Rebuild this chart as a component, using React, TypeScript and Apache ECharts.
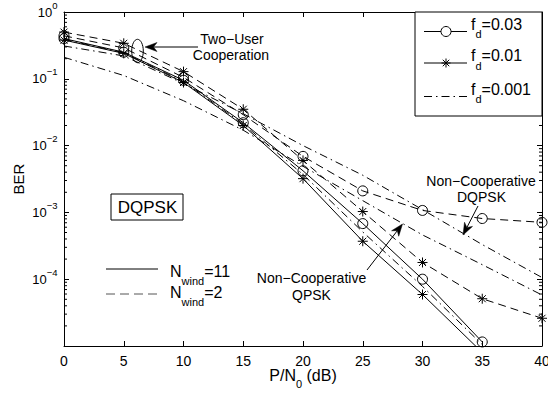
import React, { useEffect, useRef } from 'react';
import * as echarts from 'echarts';

const FF = '"Liberation Sans", Arial, Helvetica, sans-serif';

// SNR axis (dB)
const snrDb = [0, 5, 10, 15, 20, 25, 30, 35, 40];
// Two-user cooperation curves
const coopCircle = [0.40, 0.25, 0.095, 0.022, 4.2e-3, 6.8e-4, 1.0e-4, 1.15e-5];
const coopStar = [0.38, 0.24, 0.088, 0.020, 3.2e-3, 3.7e-4, 5.9e-5, 8e-6];
const coopDashDot = [0.39, 0.245, 0.091, 0.021, 3.7e-3, 5.1e-4, 7.8e-5, 1.05e-5];
// Non-cooperative curves
const ncCircle = [0.44, 0.29, 0.105, 0.029, 6.9e-3, 2.1e-3, 1.07e-3, 8.1e-4, 7.1e-4];
const ncStar = [0.5, 0.34, 0.128, 0.035, 6.0e-3, 1.03e-3, 1.78e-4, 5.1e-5, 2.6e-5];
const ncDashDot = [0.31, 0.22, 0.085, 0.03, 1.0e-2, 3.6e-3, 1.1e-3, 3.3e-4, 1.06e-4];
const ncQpsk = [0.21, 0.112, 0.047, 0.017, 4.9e-3, 1.5e-3, 4.6e-4, 1.65e-4, 5.8e-5];

// axis ticks
const xTickStep = 5;
const yMin = 1e-5;
const yMax = 1;
const minorMultipliers = [2, 3, 4, 5, 6, 7, 8, 9];
const minorDecades = [-5, -4, -3, -2, -1];

// legend texts
const fdLabels = ['0.03', '0.01', '0.001'];
const nwindLabels = ['11', '2'];

const STAR = 'path://M5,0L5,10M0,5L10,5M1.5,1.5L8.5,8.5M1.5,8.5L8.5,1.5';
const DASH = [8, 5];
const DASHDOT = [8, 4, 1.5, 4];

function pairs(vals: number[]) {
  return vals.map((v, i) => [snrDb[i], v]);
}

function lineSeries(name: string, vals: number[], dash: any, symbol?: string) {
  return {
    type: 'line',
    name,
    data: pairs(vals),
    xAxisIndex: 0,
    yAxisIndex: 0,
    symbol: symbol || 'none',
    showSymbol: !!symbol,
    symbolSize: 10,
    clip: true,
    silent: true,
    z: 3,
    lineStyle: { color: '#000', width: 1, type: dash },
    itemStyle: { color: 'rgba(0,0,0,0)', borderColor: '#000', borderWidth: 1 },
    emphasis: { disabled: true },
  };
}

function txt(x: number, y: number, text: string, size: number, align = 'center', rich?: any) {
  return {
    type: 'text',
    x,
    y,
    z: 110,
    silent: true,
    style: {
      text,
      fill: '#000',
      fontSize: size,
      fontFamily: FF,
      align,
      textAlign: align,
      verticalAlign: 'middle',
      textVerticalAlign: 'middle',
      rich,
    },
  };
}

function seg(x1: number, y1: number, x2: number, y2: number, dash?: any, color = '#000', w = 1) {
  return {
    type: 'line',
    z: 110,
    silent: true,
    shape: { x1, y1, x2, y2 },
    style: { stroke: color, lineWidth: w, lineDash: dash || null },
  };
}

function arrow(tail: number[], tip: number[]) {
  const len = 12, half = 4.5, notch = 3.5;
  const dx = tip[0] - tail[0], dy = tip[1] - tail[1];
  const L = Math.hypot(dx, dy);
  const ux = dx / L, uy = dy / L;
  const px = -uy, py = ux;
  const bx = tip[0] - ux * len, by = tip[1] - uy * len;
  const nx = tip[0] - ux * (len - notch), ny = tip[1] - uy * (len - notch);
  return [
    seg(tail[0], tail[1], nx, ny),
    {
      type: 'polygon',
      z: 110,
      silent: true,
      shape: { points: [tip, [bx + px * half, by + py * half], [nx, ny], [bx - px * half, by - py * half]] },
      style: { fill: '#000', stroke: '#000', lineWidth: 0.5 },
    },
  ];
}

function starLines(cx: number, cy: number, r: number) {
  const d = r * 0.72;
  return [
    seg(cx - r, cy, cx + r, cy),
    seg(cx, cy - r, cx, cy + r),
    seg(cx - d, cy - d, cx + d, cy + d),
    seg(cx - d, cy + d, cx + d, cy - d),
  ];
}

const subRich = (padTop: number) => ({
  m: { fontSize: 16, fontFamily: FF, fill: '#000', color: '#000' },
  s: { fontSize: 11, fontFamily: FF, fill: '#000', color: '#000', padding: [padTop, 0, 0, 0] },
});

export default function App() {
  const ref = useRef<HTMLDivElement>(null);

  useEffect(() => {
    if (!ref.current) return;
    const chart = echarts.init(ref.current, null, { renderer: 'svg' });

    const minorVals: number[][] = [];
    minorDecades.forEach((e) => minorMultipliers.forEach((k) => minorVals.push([0, k * Math.pow(10, e)])));

    const axisLine = { show: true, onZero: false, lineStyle: { color: '#000', width: 1 } };
    const axisTick = { show: true, inside: true, length: 5, lineStyle: { color: '#000', width: 1 } };

    const legendRows = [31.5, 63, 96.5];

    const graphics: any[] = [
      // Two-user cooperation annotation
      txt(232, 39, 'Two\u2212User', 14),
      txt(231, 55, 'Cooperation', 14),
      {
        type: 'ellipse',
        z: 110,
        silent: true,
        shape: { cx: 137.5, cy: 51, rx: 5.8, ry: 11.7 },
        style: { fill: 'none', stroke: '#000', lineWidth: 1 },
      },
      ...arrow([198, 47], [145, 47]),
      // DQPSK box
      {
        type: 'rect',
        z: 110,
        silent: true,
        shape: { x: 111, y: 194, width: 72, height: 26 },
        style: { fill: '#fff', stroke: '#000', lineWidth: 1 },
      },
      txt(147.5, 207.5, 'DQPSK', 17),
      // N_wind legend
      seg(106, 269, 158, 269),
      seg(106, 294, 158, 294, [9, 5], '#555'),
      txt(170, 271.3, `{m|N}{s|wind}{m|=${nwindLabels[0]}}`, 16, 'left', subRich(20)),
      txt(170, 292.3, `{m|N}{s|wind}{m|=${nwindLabels[1]}}`, 16, 'left', subRich(20)),
      // fd legend box
      {
        type: 'rect',
        z: 105,
        silent: true,
        shape: { x: 415, y: 12, width: 127, height: 104 },
        style: { fill: '#fff', stroke: '#000', lineWidth: 1 },
      },
      seg(424, legendRows[0], 467, legendRows[0]),
      {
        type: 'circle',
        z: 111,
        silent: true,
        shape: { cx: 446, cy: legendRows[0], r: 5 },
        style: { fill: '#fff', stroke: '#000', lineWidth: 1 },
      },
      seg(424, legendRows[1], 467, legendRows[1]),
      ...starLines(446, legendRows[1], 4.5),
      seg(424, legendRows[2], 467, legendRows[2], DASHDOT),
      ...fdLabels.map((l, i) => txt(471, legendRows[i] - 7.5, `{m|f}{s|d}{m|=${l}}`, 16, 'left', subRich(20))),
      // Non-cooperative DQPSK
      txt(481, 181, 'Non\u2212Cooperative', 14),
      txt(481.5, 197, 'DQPSK', 14),
      ...arrow([478, 206], [463, 235]),
      // Non-cooperative QPSK
      txt(311.5, 278, 'Non\u2212Cooperative', 14),
      txt(311.5, 294.5, 'QPSK', 14),
      ...arrow([367, 270], [402.5, 224]),
    ];

    const option: any = {
      animation: false,
      grid: { left: 64, top: 12, width: 478, height: 334, outerBoundsMode: 'none' },
      xAxis: [
        {
          type: 'value',
          min: 0,
          max: 40,
          interval: xTickStep,
          position: 'bottom',
          axisLine,
          axisTick,
          splitLine: { show: false },
          axisLabel: { color: '#000', fontSize: 14, fontFamily: FF, margin: 8 },
          name: '{a|P/N}{b|0}{a| (dB)}',
          nameLocation: 'middle',
          nameGap: 16,
          nameMoveOverlap: false,
          nameTextStyle: {
            color: '#000',
            fontSize: 16,
            fontFamily: FF,
            rich: {
              a: { fontSize: 16, fontFamily: FF, color: '#000' },
              b: { fontSize: 11, fontFamily: FF, color: '#000', padding: [16, 0, 0, 0] },
            },
          },
        },
        {
          type: 'value',
          min: 0,
          max: 40,
          interval: xTickStep,
          position: 'top',
          axisLine,
          axisTick,
          splitLine: { show: false },
          axisLabel: { show: false },
        },
      ],
      yAxis: [
        {
          type: 'log',
          logBase: 10,
          min: yMin,
          max: yMax,
          position: 'left',
          axisLine,
          axisTick,
          splitLine: { show: false },
          axisLabel: {
            margin: 6.5,
            color: '#000',
            fontFamily: FF,
            fontSize: 13,
            formatter: (v: number) => {
              const e = Math.round(Math.log10(v));
              if (e <= -5) return '';
              return `{b|10}{s|${e < 0 ? '\u2212' + -e : e}}`;
            },
            rich: {
              b: { fontSize: 13, fontFamily: FF, color: '#000' },
              s: { fontSize: 9.5, fontFamily: FF, color: '#000', padding: [0, 0, 14, 0] },
            },
          },
          name: 'BER',
          nameLocation: 'middle',
          nameGap: 38,
          nameMoveOverlap: false,
          nameRotate: 90,
          nameTextStyle: { color: '#000', fontSize: 15, fontFamily: FF },
        },
        {
          type: 'log',
          logBase: 10,
          min: yMin,
          max: yMax,
          position: 'right',
          axisLine,
          axisTick,
          splitLine: { show: false },
          axisLabel: { show: false },
        },
      ],
      series: [
        lineSeries('coop fd=0.03', coopCircle, 'solid', 'circle'),
        lineSeries('coop fd=0.01', coopStar, 'solid', STAR),
        lineSeries('coop fd=0.001', coopDashDot, DASHDOT),
        lineSeries('nc fd=0.03', ncCircle, DASH, 'circle'),
        lineSeries('nc fd=0.01', ncStar, DASH, STAR),
        lineSeries('nc DQPSK fd=0.001', ncDashDot, DASHDOT),
        lineSeries('nc QPSK', ncQpsk, DASHDOT),
        {
          type: 'custom',
          name: 'minor ticks',
          xAxisIndex: 0,
          yAxisIndex: 0,
          silent: true,
          clip: false,
          z: 4,
          data: minorVals,
          renderItem: (params: any, api: any) => {
            const v = api.value(1);
            const l = api.coord([0, v]);
            const r = api.coord([40, v]);
            return {
              type: 'group',
              children: [
                { type: 'line', shape: { x1: l[0], y1: l[1], x2: l[0] + 3, y2: l[1] }, style: { stroke: '#000', lineWidth: 1 } },
                { type: 'line', shape: { x1: r[0] - 3, y1: r[1], x2: r[0], y2: r[1] }, style: { stroke: '#000', lineWidth: 1 } },
              ],
            };
          },
        },
      ],
      graphic: { elements: graphics },
    };

    chart.setOption(option);
    return () => chart.dispose();
  }, []);

  return (
    <div
      ref={ref}
      style={{ position: 'fixed', left: 0, top: 0, width: 548, height: 393, background: '#fff' }}
    />
  );
}
